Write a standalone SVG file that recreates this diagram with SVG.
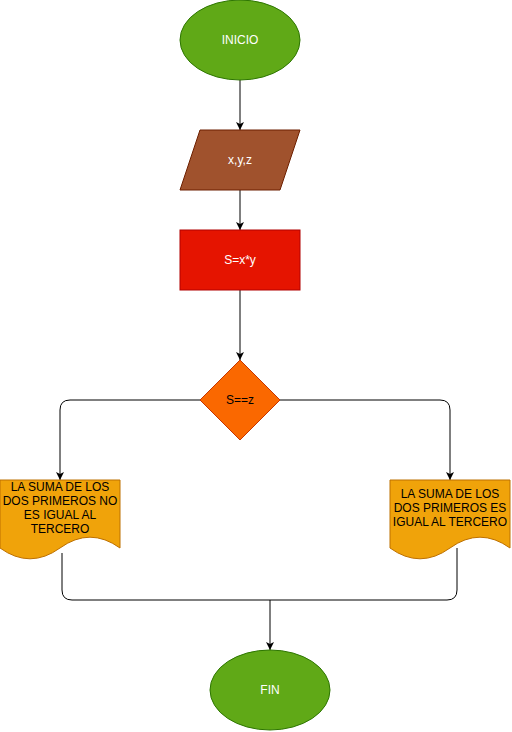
<svg xmlns="http://www.w3.org/2000/svg" width="512" height="732" viewBox="0 0 512 732">
<style>
text{font-family:"Liberation Sans",Arial,Helvetica,sans-serif;font-size:12px;text-anchor:middle}
.w{fill:#ffffff}
.k{fill:#000000}
.c{fill:none;stroke:#000000;stroke-width:1}
.doc{fill:#f0a30a;stroke:#BD7000;stroke-width:1}
.green{fill:#60a917;stroke:#2D7600;stroke-width:1}
</style>
<defs>
<marker id="arr" viewBox="0 0 10 10" refX="10" refY="5" markerWidth="8" markerHeight="8" markerUnits="userSpaceOnUse" orient="auto">
<path d="M0,0 L10,5 L0,10 L2.5,5 z" fill="#000000"/>
</marker>
</defs>
<g id="connectors">
<path class="c" d="M240,80 L240,130" marker-end="url(#arr)"/>
<path class="c" d="M240,190 L240,230" marker-end="url(#arr)"/>
<path class="c" d="M240,290 L240,360" marker-end="url(#arr)"/>
<path class="c" d="M200,400 L70,400 Q60,400 60,410 L60,480" marker-end="url(#arr)"/>
<path class="c" d="M280,400 L440,400 Q450,400 450,410 L450,480" marker-end="url(#arr)"/>
<path class="c" d="M62,553 L62,590 Q62,600 72,600 L447,600 Q457,600 457,590 L457,548"/>
<path class="c" d="M270,600 L270,650" marker-end="url(#arr)"/>
</g>
<g id="inicio">
<ellipse class="green" cx="240" cy="40" rx="60" ry="40"/>
<text class="w" x="240" y="44">INICIO</text>
</g>
<g id="entrada">
<path d="M200,130 L300,130 L280,190 L180,190 Z" fill="#a0522d" stroke="#6D1F00"/>
<text class="w" x="240" y="164">x,y,z</text>
</g>
<g id="proceso">
<rect x="180" y="230" width="120" height="60" fill="#e51400" stroke="#B20000"/>
<text class="w" x="240" y="264">S=x*y</text>
</g>
<g id="decision">
<path d="M240,360 L280,400 L240,440 L200,400 Z" fill="#fa6800" stroke="#C73500"/>
<text class="k" x="240" y="404">S==z</text>
</g>
<g id="doc-no">
<path class="doc" d="M0,480 L120,480 L120,548 Q90,526.4 60,548 Q30,569.6 0,548 Z"/>
<text class="k" x="60" y="491">LA SUMA DE LOS</text>
<text class="k" x="60" y="505">DOS PRIMEROS NO</text>
<text class="k" x="60" y="519">ES IGUAL AL</text>
<text class="k" x="60" y="533">TERCERO</text>
</g>
<g id="doc-si">
<path class="doc" d="M390,480 L510,480 L510,548 Q480,526.4 450,548 Q420,569.6 390,548 Z"/>
<text class="k" x="450" y="498">LA SUMA DE LOS</text>
<text class="k" x="450" y="512">DOS PRIMEROS ES</text>
<text class="k" x="450" y="526">IGUAL AL TERCERO</text>
</g>
<g id="fin">
<ellipse class="green" cx="270" cy="690" rx="60" ry="40"/>
<text class="w" x="270" y="694">FIN</text>
</g>
</svg>
